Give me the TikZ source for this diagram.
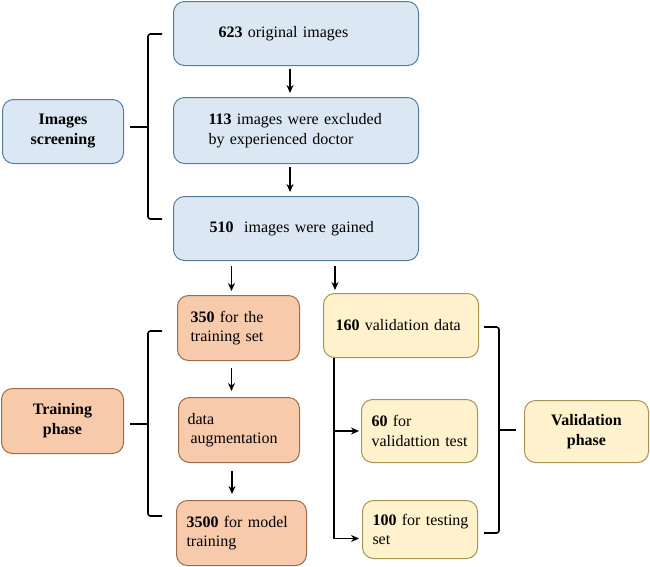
\documentclass[tikz,border=0pt]{standalone}
\usepackage{fontspec}
\setmainfont{LiberationSerif}[Extension=.ttf, UprightFont=*-Regular, BoldFont=*-Bold, ItalicFont=*-Italic, BoldItalicFont=*-BoldItalic]
\usetikzlibrary{arrows.meta,calc}
\definecolor{bfill}{HTML}{DCE7F4}
\definecolor{bdraw}{HTML}{5A7BA0}
\definecolor{ofill}{HTML}{F7CAAC}
\definecolor{odraw}{HTML}{9E6B48}
\definecolor{yfill}{HTML}{FFF2CC}
\definecolor{ydraw}{HTML}{A89355}
\tikzset{
  box/.style={draw, rounded corners=11pt, line width=1pt, anchor=north west,
    font=\fontsize{16}{19.5}\selectfont, inner ysep=0pt},
  bluebox/.style={box, fill=bfill, draw=bdraw},
  orangebox/.style={box, fill=ofill, draw=odraw},
  yellowbox/.style={box, fill=yfill, draw=ydraw},
  phase/.style={align=center, font=\fontsize{16}{20}\selectfont\bfseries},
  arr/.style={line width=1.5pt, -{Stealth[length=8pt,width=7pt]}},
  brace/.style={line width=1.6pt, rounded corners=2.5pt},
}
\begin{document}
\begin{tikzpicture}[x=1pt,y=-1pt]
\useasboundingbox (0,0) rectangle (650,566);
% screening
\node[bluebox, minimum width=245pt, minimum height=64pt, inner xsep=45pt, text width=155pt, align=left] (b1) at (173,1) {\mbox{\textbf{623} original images}};
\node[bluebox, minimum width=245pt, minimum height=66pt, inner xsep=35pt, text width=175pt, align=left] (b2) at (173,97) {\mbox{\textbf{113} images were excluded}\\\mbox{by experienced doctor}};
\node[bluebox, minimum width=245pt, minimum height=64pt, inner xsep=36pt, text width=173pt, align=left] (b3) at (173,196) {\mbox{\textbf{510}\ \ images were gained}};
\node[bluebox, phase, minimum width=121pt, minimum height=64pt] (scr) at (2,99) {Images\\screening};
% training
\node[orangebox, minimum width=122pt, minimum height=65pt, inner xsep=13pt, text width=96pt, align=left] (t1) at (177,295) {\mbox{\textbf{350} for the}\\\mbox{training set}};
\node[orangebox, minimum width=121pt, minimum height=65pt, inner xsep=9pt, text width=103pt, align=left] (t2) at (178,397) {data\\\mbox{\hspace*{3pt}augmentation}};
\node[orangebox, minimum width=130pt, minimum height=65pt, inner xsep=10pt, text width=110pt, align=left] (t3) at (176,500) {\mbox{\textbf{3500} for model}\\training};
\node[orangebox, phase, minimum width=122pt, minimum height=65pt] (tr) at (1,388) {Training\\phase};
% validation
\node[yellowbox, minimum width=155pt, minimum height=64pt, inner xsep=12pt, text width=131pt, align=left] (v1) at (323,293) {\mbox{\textbf{160} validation data}};
\node[yellowbox, minimum width=116pt, minimum height=63pt, inner xsep=10pt, text width=96pt, align=left] (v2) at (361,399) {\mbox{\textbf{60} for}\\\mbox{validattion test}};
\node[yellowbox, minimum width=115pt, minimum height=58pt, inner xsep=10pt, text width=95pt, align=left] (v3) at (362,500) {\mbox{\textbf{100} for testing}\\set};
\node[yellowbox, phase, minimum width=124pt, minimum height=62pt] (vp) at (524,400) {Validation\\phase};
% arrows
\coordinate (a1) at ($(b1.south)+(-6,0)$);
\coordinate (a2) at ($(b2.south)+(-6,0)$);
\draw[arr] ($(a1)+(0,3)$) -- ($(a1 |- b2.north)+(0,-4)$);
\draw[arr] ($(a2)+(0,3)$) -- ($(a2 |- b3.north)+(0,-4)$);
\coordinate (a3) at ($(t1.north)+(-7,0)$);
\draw[arr] ($(a3 |- b3.south)+(0,5)$) -- ($(a3)+(0,-4)$);
\coordinate (a4) at ($(v1.north west)+(12,0)$);
\draw[arr] ($(a4 |- b3.south)+(0,5)$) -- ($(a4)+(0,-3)$);
\coordinate (a5) at ($(t1.south)+(-7,0)$);
\coordinate (a6) at ($(t2.south)+(-7,0)$);
\draw[arr] ($(a5)+(0,7)$) -- ($(a5 |- t2.north)+(0,-6)$);
\draw[arr] ($(a6)+(0,8)$) -- ($(a6 |- t3.north)+(0,-6)$);
% validation split
\coordinate (s0) at ($(v1.south west)+(11,0)$);
\coordinate (s1) at ($(v3.west)+(0,9)$);
\draw[arr] (s0) -- (s0 |- s1) -- ($(s1)+(-3,0)$);
\draw[arr] (s0 |- v2.west) -- ($(v2.west)+(-2,0)$);
% braces
\draw[brace] (162,34) -- (148,34) -- (148,219) -- (162,219);
\draw[brace] (148,127) -- (130,127);
\draw[brace] (162,331) -- (148,331) -- (148,516) -- (162,516);
\draw[brace] (148,424) -- (130,424);
\draw[brace] (484,327) -- (499,327) -- (499,533) -- (484,533);
\draw[brace] (499,430) -- (516,430);
\end{tikzpicture}
\end{document}
